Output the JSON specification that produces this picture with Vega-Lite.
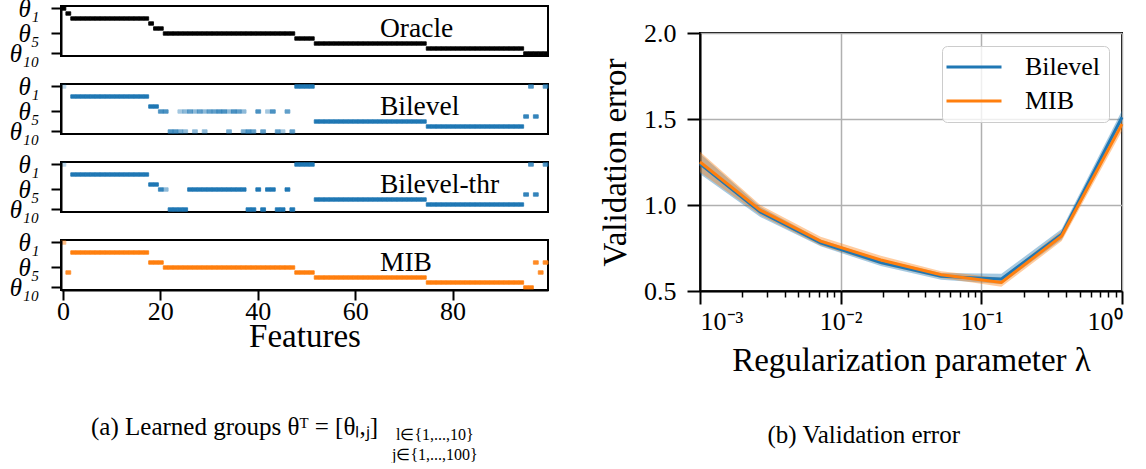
{
  "$schema": "https://vega.github.io/schema/vega-lite/v6.json",
  "background": "white",
  "padding": {"left": 8, "top": -5, "right": 5, "bottom": 0},
  "config": {
    "font": "Liberation Serif",
    "view": {"stroke": "black", "strokeWidth": 2},
    "axis": {"domainColor": "black", "domainWidth": 2, "tickColor": "black", "tickWidth": 2, "labelColor": "black", "titleColor": "black", "titleFontWeight": "normal", "labelFont": "Liberation Serif", "titleFont": "Liberation Serif"},
    "title": {"font": "Liberation Serif", "fontWeight": "normal", "color": "black"}
  },
  "datasets": {
    "heat": [
      {"p":"O","j":0,"r":0,"v":1},{"p":"O","j":1,"r":1,"v":1},
      {"p":"O","j":2,"r":2,"v":1},{"p":"O","j":3,"r":2,"v":1},{"p":"O","j":4,"r":2,"v":1},{"p":"O","j":5,"r":2,"v":1},{"p":"O","j":6,"r":2,"v":1},{"p":"O","j":7,"r":2,"v":1},{"p":"O","j":8,"r":2,"v":1},{"p":"O","j":9,"r":2,"v":1},{"p":"O","j":10,"r":2,"v":1},{"p":"O","j":11,"r":2,"v":1},{"p":"O","j":12,"r":2,"v":1},{"p":"O","j":13,"r":2,"v":1},{"p":"O","j":14,"r":2,"v":1},{"p":"O","j":15,"r":2,"v":1},{"p":"O","j":16,"r":2,"v":1},{"p":"O","j":17,"r":2,"v":1},
      {"p":"O","j":18,"r":3,"v":1},{"p":"O","j":19,"r":4,"v":1},{"p":"O","j":20,"r":4,"v":1},
      {"p":"O","j":21,"r":5,"v":1},{"p":"O","j":22,"r":5,"v":1},{"p":"O","j":23,"r":5,"v":1},{"p":"O","j":24,"r":5,"v":1},{"p":"O","j":25,"r":5,"v":1},{"p":"O","j":26,"r":5,"v":1},{"p":"O","j":27,"r":5,"v":1},{"p":"O","j":28,"r":5,"v":1},{"p":"O","j":29,"r":5,"v":1},{"p":"O","j":30,"r":5,"v":1},{"p":"O","j":31,"r":5,"v":1},{"p":"O","j":32,"r":5,"v":1},{"p":"O","j":33,"r":5,"v":1},{"p":"O","j":34,"r":5,"v":1},{"p":"O","j":35,"r":5,"v":1},{"p":"O","j":36,"r":5,"v":1},{"p":"O","j":37,"r":5,"v":1},{"p":"O","j":38,"r":5,"v":1},{"p":"O","j":39,"r":5,"v":1},{"p":"O","j":40,"r":5,"v":1},{"p":"O","j":41,"r":5,"v":1},{"p":"O","j":42,"r":5,"v":1},{"p":"O","j":43,"r":5,"v":1},{"p":"O","j":44,"r":5,"v":1},{"p":"O","j":45,"r":5,"v":1},{"p":"O","j":46,"r":5,"v":1},{"p":"O","j":47,"r":5,"v":1},
      {"p":"O","j":48,"r":6,"v":1},{"p":"O","j":49,"r":6,"v":1},{"p":"O","j":50,"r":6,"v":1},{"p":"O","j":51,"r":6,"v":1},
      {"p":"O","j":52,"r":7,"v":1},{"p":"O","j":53,"r":7,"v":1},{"p":"O","j":54,"r":7,"v":1},{"p":"O","j":55,"r":7,"v":1},{"p":"O","j":56,"r":7,"v":1},{"p":"O","j":57,"r":7,"v":1},{"p":"O","j":58,"r":7,"v":1},{"p":"O","j":59,"r":7,"v":1},{"p":"O","j":60,"r":7,"v":1},{"p":"O","j":61,"r":7,"v":1},{"p":"O","j":62,"r":7,"v":1},{"p":"O","j":63,"r":7,"v":1},{"p":"O","j":64,"r":7,"v":1},{"p":"O","j":65,"r":7,"v":1},{"p":"O","j":66,"r":7,"v":1},{"p":"O","j":67,"r":7,"v":1},{"p":"O","j":68,"r":7,"v":1},{"p":"O","j":69,"r":7,"v":1},{"p":"O","j":70,"r":7,"v":1},{"p":"O","j":71,"r":7,"v":1},{"p":"O","j":72,"r":7,"v":1},{"p":"O","j":73,"r":7,"v":1},{"p":"O","j":74,"r":7,"v":1},
      {"p":"O","j":75,"r":8,"v":1},{"p":"O","j":76,"r":8,"v":1},{"p":"O","j":77,"r":8,"v":1},{"p":"O","j":78,"r":8,"v":1},{"p":"O","j":79,"r":8,"v":1},{"p":"O","j":80,"r":8,"v":1},{"p":"O","j":81,"r":8,"v":1},{"p":"O","j":82,"r":8,"v":1},{"p":"O","j":83,"r":8,"v":1},{"p":"O","j":84,"r":8,"v":1},{"p":"O","j":85,"r":8,"v":1},{"p":"O","j":86,"r":8,"v":1},{"p":"O","j":87,"r":8,"v":1},{"p":"O","j":88,"r":8,"v":1},{"p":"O","j":89,"r":8,"v":1},{"p":"O","j":90,"r":8,"v":1},{"p":"O","j":91,"r":8,"v":1},{"p":"O","j":92,"r":8,"v":1},{"p":"O","j":93,"r":8,"v":1},{"p":"O","j":94,"r":8,"v":1},
      {"p":"O","j":95,"r":9,"v":1},{"p":"O","j":96,"r":9,"v":1},{"p":"O","j":97,"r":9,"v":1},{"p":"O","j":98,"r":9,"v":1},{"p":"O","j":99,"r":9,"v":1},

      {"p":"B","j":0,"r":0,"v":0.3},
      {"p":"B","j":2,"r":2,"v":1},{"p":"B","j":3,"r":2,"v":1},{"p":"B","j":4,"r":2,"v":1},{"p":"B","j":5,"r":2,"v":1},{"p":"B","j":6,"r":2,"v":1},{"p":"B","j":7,"r":2,"v":1},{"p":"B","j":8,"r":2,"v":1},{"p":"B","j":9,"r":2,"v":1},{"p":"B","j":10,"r":2,"v":1},{"p":"B","j":11,"r":2,"v":1},{"p":"B","j":12,"r":2,"v":1},{"p":"B","j":13,"r":2,"v":1},{"p":"B","j":14,"r":2,"v":1},{"p":"B","j":15,"r":2,"v":1},{"p":"B","j":16,"r":2,"v":1},{"p":"B","j":17,"r":2,"v":1},
      {"p":"B","j":18,"r":4,"v":1},{"p":"B","j":19,"r":4,"v":1},{"p":"B","j":20,"r":5,"v":0.8},{"p":"B","j":21,"r":5,"v":0.8},
      {"p":"B","j":22,"r":9,"v":0.8},{"p":"B","j":23,"r":9,"v":0.8},{"p":"B","j":24,"r":9,"v":0.6},{"p":"B","j":24,"r":5,"v":0.4},{"p":"B","j":25,"r":9,"v":0.5},{"p":"B","j":25,"r":5,"v":0.5},
      {"p":"B","j":26,"r":5,"v":0.7},{"p":"B","j":27,"r":5,"v":0.5},{"p":"B","j":27,"r":9,"v":0.5},{"p":"B","j":28,"r":5,"v":0.7},{"p":"B","j":29,"r":5,"v":0.5},{"p":"B","j":29,"r":9,"v":0.5},{"p":"B","j":30,"r":5,"v":0.7},{"p":"B","j":31,"r":5,"v":0.7},{"p":"B","j":32,"r":5,"v":0.8},{"p":"B","j":33,"r":5,"v":0.8},{"p":"B","j":34,"r":5,"v":0.5},{"p":"B","j":34,"r":9,"v":0.6},{"p":"B","j":35,"r":5,"v":0.8},{"p":"B","j":36,"r":5,"v":0.7},{"p":"B","j":37,"r":5,"v":0.5},{"p":"B","j":37,"r":9,"v":0.6},{"p":"B","j":38,"r":9,"v":0.8},{"p":"B","j":39,"r":9,"v":0.7},{"p":"B","j":40,"r":5,"v":0.8},{"p":"B","j":41,"r":9,"v":0.7},{"p":"B","j":42,"r":5,"v":0.4},{"p":"B","j":43,"r":5,"v":0.8},{"p":"B","j":44,"r":9,"v":0.7},{"p":"B","j":45,"r":9,"v":0.4},{"p":"B","j":46,"r":5,"v":0.7},{"p":"B","j":47,"r":9,"v":0.7},
      {"p":"B","j":48,"r":0,"v":1},{"p":"B","j":49,"r":0,"v":1},{"p":"B","j":50,"r":0,"v":1},{"p":"B","j":51,"r":0,"v":1},
      {"p":"B","j":52,"r":7,"v":1},{"p":"B","j":53,"r":7,"v":1},{"p":"B","j":54,"r":7,"v":1},{"p":"B","j":55,"r":7,"v":1},{"p":"B","j":56,"r":7,"v":1},{"p":"B","j":57,"r":7,"v":1},{"p":"B","j":58,"r":7,"v":1},{"p":"B","j":59,"r":7,"v":1},{"p":"B","j":60,"r":7,"v":1},{"p":"B","j":61,"r":7,"v":1},{"p":"B","j":62,"r":7,"v":1},{"p":"B","j":63,"r":7,"v":1},{"p":"B","j":64,"r":7,"v":1},{"p":"B","j":65,"r":7,"v":1},{"p":"B","j":66,"r":7,"v":1},{"p":"B","j":67,"r":7,"v":1},{"p":"B","j":68,"r":7,"v":1},{"p":"B","j":69,"r":7,"v":1},{"p":"B","j":70,"r":7,"v":1},{"p":"B","j":71,"r":7,"v":1},{"p":"B","j":72,"r":7,"v":1},{"p":"B","j":73,"r":7,"v":1},{"p":"B","j":74,"r":7,"v":1},
      {"p":"B","j":75,"r":8,"v":1},{"p":"B","j":76,"r":8,"v":1},{"p":"B","j":77,"r":8,"v":1},{"p":"B","j":78,"r":8,"v":1},{"p":"B","j":79,"r":8,"v":1},{"p":"B","j":80,"r":8,"v":1},{"p":"B","j":81,"r":8,"v":1},{"p":"B","j":82,"r":8,"v":1},{"p":"B","j":83,"r":8,"v":1},{"p":"B","j":84,"r":8,"v":1},{"p":"B","j":85,"r":8,"v":1},{"p":"B","j":86,"r":8,"v":1},{"p":"B","j":87,"r":8,"v":1},{"p":"B","j":88,"r":8,"v":1},{"p":"B","j":89,"r":8,"v":1},{"p":"B","j":90,"r":8,"v":1},{"p":"B","j":91,"r":8,"v":1},{"p":"B","j":92,"r":8,"v":1},{"p":"B","j":93,"r":8,"v":1},{"p":"B","j":94,"r":8,"v":1},
      {"p":"B","j":95,"r":6,"v":0.9},{"p":"B","j":97,"r":6,"v":0.9},{"p":"B","j":96,"r":0,"v":0.8},{"p":"B","j":99,"r":0,"v":0.8},

      {"p":"T","j":0,"r":0,"v":0.3},
      {"p":"T","j":2,"r":2,"v":1},{"p":"T","j":3,"r":2,"v":1},{"p":"T","j":4,"r":2,"v":1},{"p":"T","j":5,"r":2,"v":1},{"p":"T","j":6,"r":2,"v":1},{"p":"T","j":7,"r":2,"v":1},{"p":"T","j":8,"r":2,"v":1},{"p":"T","j":9,"r":2,"v":1},{"p":"T","j":10,"r":2,"v":1},{"p":"T","j":11,"r":2,"v":1},{"p":"T","j":12,"r":2,"v":1},{"p":"T","j":13,"r":2,"v":1},{"p":"T","j":14,"r":2,"v":1},{"p":"T","j":15,"r":2,"v":1},{"p":"T","j":16,"r":2,"v":1},{"p":"T","j":17,"r":2,"v":1},
      {"p":"T","j":18,"r":4,"v":1},{"p":"T","j":19,"r":4,"v":1},{"p":"T","j":20,"r":5,"v":0.9},{"p":"T","j":21,"r":5,"v":0.5},
      {"p":"T","j":22,"r":9,"v":1},{"p":"T","j":23,"r":9,"v":1},{"p":"T","j":24,"r":9,"v":1},{"p":"T","j":25,"r":9,"v":1},
      {"p":"T","j":26,"r":5,"v":1},{"p":"T","j":27,"r":5,"v":1},{"p":"T","j":28,"r":5,"v":1},{"p":"T","j":29,"r":5,"v":1},{"p":"T","j":30,"r":5,"v":1},{"p":"T","j":31,"r":5,"v":1},{"p":"T","j":32,"r":5,"v":1},{"p":"T","j":33,"r":5,"v":1},{"p":"T","j":34,"r":5,"v":1},{"p":"T","j":35,"r":5,"v":1},{"p":"T","j":36,"r":5,"v":1},{"p":"T","j":37,"r":5,"v":1},
      {"p":"T","j":38,"r":9,"v":1},{"p":"T","j":39,"r":9,"v":1},{"p":"T","j":40,"r":5,"v":1},{"p":"T","j":41,"r":9,"v":1},{"p":"T","j":42,"r":5,"v":1},{"p":"T","j":43,"r":5,"v":1},{"p":"T","j":44,"r":9,"v":1},{"p":"T","j":45,"r":9,"v":1},{"p":"T","j":46,"r":5,"v":1},{"p":"T","j":47,"r":9,"v":1},
      {"p":"T","j":48,"r":0,"v":1},{"p":"T","j":49,"r":0,"v":1},{"p":"T","j":50,"r":0,"v":1},{"p":"T","j":51,"r":0,"v":1},
      {"p":"T","j":52,"r":7,"v":1},{"p":"T","j":53,"r":7,"v":1},{"p":"T","j":54,"r":7,"v":1},{"p":"T","j":55,"r":7,"v":1},{"p":"T","j":56,"r":7,"v":1},{"p":"T","j":57,"r":7,"v":1},{"p":"T","j":58,"r":7,"v":1},{"p":"T","j":59,"r":7,"v":1},{"p":"T","j":60,"r":7,"v":1},{"p":"T","j":61,"r":7,"v":1},{"p":"T","j":62,"r":7,"v":1},{"p":"T","j":63,"r":7,"v":1},{"p":"T","j":64,"r":7,"v":1},{"p":"T","j":65,"r":7,"v":1},{"p":"T","j":66,"r":7,"v":1},{"p":"T","j":67,"r":7,"v":1},{"p":"T","j":68,"r":7,"v":1},{"p":"T","j":69,"r":7,"v":1},{"p":"T","j":70,"r":7,"v":1},{"p":"T","j":71,"r":7,"v":1},{"p":"T","j":72,"r":7,"v":1},{"p":"T","j":73,"r":7,"v":1},{"p":"T","j":74,"r":7,"v":1},
      {"p":"T","j":75,"r":8,"v":1},{"p":"T","j":76,"r":8,"v":1},{"p":"T","j":77,"r":8,"v":1},{"p":"T","j":78,"r":8,"v":1},{"p":"T","j":79,"r":8,"v":1},{"p":"T","j":80,"r":8,"v":1},{"p":"T","j":81,"r":8,"v":1},{"p":"T","j":82,"r":8,"v":1},{"p":"T","j":83,"r":8,"v":1},{"p":"T","j":84,"r":8,"v":1},{"p":"T","j":85,"r":8,"v":1},{"p":"T","j":86,"r":8,"v":1},{"p":"T","j":87,"r":8,"v":1},{"p":"T","j":88,"r":8,"v":1},{"p":"T","j":89,"r":8,"v":1},{"p":"T","j":90,"r":8,"v":1},{"p":"T","j":91,"r":8,"v":1},{"p":"T","j":92,"r":8,"v":1},{"p":"T","j":93,"r":8,"v":1},{"p":"T","j":94,"r":8,"v":1},
      {"p":"T","j":95,"r":6,"v":0.9},{"p":"T","j":97,"r":6,"v":0.9},{"p":"T","j":96,"r":0,"v":0.8},{"p":"T","j":99,"r":0,"v":0.8},

      {"p":"M","j":0,"r":0,"v":0.5},{"p":"M","j":1,"r":6,"v":0.9},
      {"p":"M","j":2,"r":2,"v":1},{"p":"M","j":3,"r":2,"v":1},{"p":"M","j":4,"r":2,"v":1},{"p":"M","j":5,"r":2,"v":1},{"p":"M","j":6,"r":2,"v":1},{"p":"M","j":7,"r":2,"v":1},{"p":"M","j":8,"r":2,"v":1},{"p":"M","j":9,"r":2,"v":1},{"p":"M","j":10,"r":2,"v":1},{"p":"M","j":11,"r":2,"v":1},{"p":"M","j":12,"r":2,"v":1},{"p":"M","j":13,"r":2,"v":1},{"p":"M","j":14,"r":2,"v":1},{"p":"M","j":15,"r":2,"v":1},{"p":"M","j":16,"r":2,"v":1},{"p":"M","j":17,"r":2,"v":1},
      {"p":"M","j":18,"r":4,"v":1},{"p":"M","j":19,"r":4,"v":1},{"p":"M","j":20,"r":4,"v":1},
      {"p":"M","j":21,"r":5,"v":1},{"p":"M","j":22,"r":5,"v":1},{"p":"M","j":23,"r":5,"v":1},{"p":"M","j":24,"r":5,"v":1},{"p":"M","j":25,"r":5,"v":1},{"p":"M","j":26,"r":5,"v":1},{"p":"M","j":27,"r":5,"v":1},{"p":"M","j":28,"r":5,"v":1},{"p":"M","j":29,"r":5,"v":1},{"p":"M","j":30,"r":5,"v":1},{"p":"M","j":31,"r":5,"v":1},{"p":"M","j":32,"r":5,"v":1},{"p":"M","j":33,"r":5,"v":1},{"p":"M","j":34,"r":5,"v":1},{"p":"M","j":35,"r":5,"v":1},{"p":"M","j":36,"r":5,"v":1},{"p":"M","j":37,"r":5,"v":1},{"p":"M","j":38,"r":5,"v":1},{"p":"M","j":39,"r":5,"v":1},{"p":"M","j":40,"r":5,"v":1},{"p":"M","j":41,"r":5,"v":1},{"p":"M","j":42,"r":5,"v":1},{"p":"M","j":43,"r":5,"v":1},{"p":"M","j":44,"r":5,"v":1},{"p":"M","j":45,"r":5,"v":1},{"p":"M","j":46,"r":5,"v":1},{"p":"M","j":47,"r":5,"v":1},
      {"p":"M","j":48,"r":6,"v":1},{"p":"M","j":49,"r":6,"v":1},{"p":"M","j":50,"r":6,"v":1},{"p":"M","j":51,"r":6,"v":1},
      {"p":"M","j":52,"r":7,"v":1},{"p":"M","j":53,"r":7,"v":1},{"p":"M","j":54,"r":7,"v":1},{"p":"M","j":55,"r":7,"v":1},{"p":"M","j":56,"r":7,"v":1},{"p":"M","j":57,"r":7,"v":1},{"p":"M","j":58,"r":7,"v":1},{"p":"M","j":59,"r":7,"v":1},{"p":"M","j":60,"r":7,"v":1},{"p":"M","j":61,"r":7,"v":1},{"p":"M","j":62,"r":7,"v":1},{"p":"M","j":63,"r":7,"v":1},{"p":"M","j":64,"r":7,"v":1},{"p":"M","j":65,"r":7,"v":1},{"p":"M","j":66,"r":7,"v":1},{"p":"M","j":67,"r":7,"v":1},{"p":"M","j":68,"r":7,"v":1},{"p":"M","j":69,"r":7,"v":1},{"p":"M","j":70,"r":7,"v":1},{"p":"M","j":71,"r":7,"v":1},{"p":"M","j":72,"r":7,"v":1},{"p":"M","j":73,"r":7,"v":1},{"p":"M","j":74,"r":7,"v":1},
      {"p":"M","j":75,"r":8,"v":1},{"p":"M","j":76,"r":8,"v":1},{"p":"M","j":77,"r":8,"v":1},{"p":"M","j":78,"r":8,"v":1},{"p":"M","j":79,"r":8,"v":1},{"p":"M","j":80,"r":8,"v":1},{"p":"M","j":81,"r":8,"v":1},{"p":"M","j":82,"r":8,"v":1},{"p":"M","j":83,"r":8,"v":1},{"p":"M","j":84,"r":8,"v":1},{"p":"M","j":85,"r":8,"v":1},{"p":"M","j":86,"r":8,"v":1},{"p":"M","j":87,"r":8,"v":1},{"p":"M","j":88,"r":8,"v":1},{"p":"M","j":89,"r":8,"v":1},{"p":"M","j":90,"r":8,"v":1},{"p":"M","j":91,"r":8,"v":1},{"p":"M","j":92,"r":8,"v":1},{"p":"M","j":93,"r":8,"v":1},{"p":"M","j":94,"r":8,"v":1},
      {"p":"M","j":95,"r":9,"v":1},{"p":"M","j":96,"r":9,"v":1},{"p":"M","j":97,"r":4,"v":0.9},{"p":"M","j":98,"r":6,"v":0.9},{"p":"M","j":99,"r":4,"v":0.9}
    ],
    "val": [
      {"s":"Bilevel","x":0.001,"m":1.24,"lo":1.18,"hi":1.30},
      {"s":"Bilevel","x":0.002683,"m":0.96,"lo":0.93,"hi":0.99},
      {"s":"Bilevel","x":0.007197,"m":0.78,"lo":0.76,"hi":0.80},
      {"s":"Bilevel","x":0.019307,"m":0.665,"lo":0.645,"hi":0.685},
      {"s":"Bilevel","x":0.051795,"m":0.585,"lo":0.565,"hi":0.605},
      {"s":"Bilevel","x":0.13895,"m":0.57,"lo":0.54,"hi":0.60},
      {"s":"Bilevel","x":0.372759,"m":0.83,"lo":0.80,"hi":0.86},
      {"s":"Bilevel","x":1.0,"m":1.51,"lo":1.47,"hi":1.55},
      {"s":"MIB","x":0.001,"m":1.25,"lo":1.19,"hi":1.31},
      {"s":"MIB","x":0.002683,"m":0.97,"lo":0.94,"hi":1.0},
      {"s":"MIB","x":0.007197,"m":0.79,"lo":0.765,"hi":0.815},
      {"s":"MIB","x":0.019307,"m":0.68,"lo":0.655,"hi":0.705},
      {"s":"MIB","x":0.051795,"m":0.595,"lo":0.575,"hi":0.615},
      {"s":"MIB","x":0.13895,"m":0.55,"lo":0.525,"hi":0.575},
      {"s":"MIB","x":0.372759,"m":0.82,"lo":0.79,"hi":0.85},
      {"s":"MIB","x":1.0,"m":1.47,"lo":1.43,"hi":1.51}
    ]
  },
  "hconcat": [
    {
      "spacing": 6,
      "title": {"text": ["l∈{1,...,10}", "j∈{1,...,100}"], "orient": "bottom", "anchor": "middle", "fontSize": 16, "lineHeight": 20, "offset": -14, "dx": 156},
      "vconcat": [
        {
          "width": 487, "height": 50,
          "layer": [
            {"data": {"name": "heat"}, "transform": [{"filter": "datum.p == 'O'"}],
             "mark": {"type": "rect", "color": "black", "stroke": "black", "strokeWidth": 0.8, "height": {"band": 0.7}},
             "encoding": {
               "x": {"field": "j", "type": "ordinal", "scale": {"type": "band", "domain": [0,1,2,3,4,5,6,7,8,9,10,11,12,13,14,15,16,17,18,19,20,21,22,23,24,25,26,27,28,29,30,31,32,33,34,35,36,37,38,39,40,41,42,43,44,45,46,47,48,49,50,51,52,53,54,55,56,57,58,59,60,61,62,63,64,65,66,67,68,69,70,71,72,73,74,75,76,77,78,79,80,81,82,83,84,85,86,87,88,89,90,91,92,93,94,95,96,97,98,99], "paddingInner": 0, "paddingOuter": 0}, "axis": null},
               "y": {"field": "r", "type": "ordinal", "scale": {"type": "band", "domain": [0,1,2,3,4,5,6,7,8,9], "paddingInner": 0, "paddingOuter": 0}, "axis": {"values": [0,5,9], "labelExpr": "datum.value == 0 ? 'θ₁' : datum.value == 5 ? 'θ₅' : 'θ₁₀'", "tickSize": 10, "labelFontSize": 25, "labelFontStyle": "italic", "labelPadding": 12, "title": null}},
               "opacity": {"field": "v", "type": "quantitative", "scale": {"domain": [0,1], "range": [0,1]}, "legend": null}
             }},
            {"data": {"values": [{"t": "Oracle"}]},
             "mark": {"type": "text", "align": "left", "baseline": "middle", "fontSize": 27.5},
             "encoding": {"x": {"datum": 65, "type": "ordinal"}, "y": {"datum": 4, "type": "ordinal"}, "text": {"field": "t"}}}
          ]
        },
        {
          "width": 487, "height": 50,
          "layer": [
            {"data": {"name": "heat"}, "transform": [{"filter": "datum.p == 'B'"}],
             "mark": {"type": "rect", "color": "#1f77b4", "stroke": "#1f77b4", "strokeWidth": 0.8, "height": {"band": 0.7}},
             "encoding": {
               "x": {"field": "j", "type": "ordinal", "scale": {"type": "band", "domain": [0,1,2,3,4,5,6,7,8,9,10,11,12,13,14,15,16,17,18,19,20,21,22,23,24,25,26,27,28,29,30,31,32,33,34,35,36,37,38,39,40,41,42,43,44,45,46,47,48,49,50,51,52,53,54,55,56,57,58,59,60,61,62,63,64,65,66,67,68,69,70,71,72,73,74,75,76,77,78,79,80,81,82,83,84,85,86,87,88,89,90,91,92,93,94,95,96,97,98,99], "paddingInner": 0, "paddingOuter": 0}, "axis": null},
               "y": {"field": "r", "type": "ordinal", "scale": {"type": "band", "domain": [0,1,2,3,4,5,6,7,8,9], "paddingInner": 0, "paddingOuter": 0}, "axis": {"values": [0,5,9], "labelExpr": "datum.value == 0 ? 'θ₁' : datum.value == 5 ? 'θ₅' : 'θ₁₀'", "tickSize": 10, "labelFontSize": 25, "labelFontStyle": "italic", "labelPadding": 12, "title": null}},
               "opacity": {"field": "v", "type": "quantitative", "scale": {"domain": [0,1], "range": [0,1]}, "legend": null}
             }},
            {"data": {"values": [{"t": "Bilevel"}]},
             "mark": {"type": "text", "align": "left", "baseline": "middle", "fontSize": 27.5},
             "encoding": {"x": {"datum": 65, "type": "ordinal"}, "y": {"datum": 4, "type": "ordinal"}, "text": {"field": "t"}}}
          ]
        },
        {
          "width": 487, "height": 50,
          "layer": [
            {"data": {"name": "heat"}, "transform": [{"filter": "datum.p == 'T'"}],
             "mark": {"type": "rect", "color": "#1f77b4", "stroke": "#1f77b4", "strokeWidth": 0.8, "height": {"band": 0.7}},
             "encoding": {
               "x": {"field": "j", "type": "ordinal", "scale": {"type": "band", "domain": [0,1,2,3,4,5,6,7,8,9,10,11,12,13,14,15,16,17,18,19,20,21,22,23,24,25,26,27,28,29,30,31,32,33,34,35,36,37,38,39,40,41,42,43,44,45,46,47,48,49,50,51,52,53,54,55,56,57,58,59,60,61,62,63,64,65,66,67,68,69,70,71,72,73,74,75,76,77,78,79,80,81,82,83,84,85,86,87,88,89,90,91,92,93,94,95,96,97,98,99], "paddingInner": 0, "paddingOuter": 0}, "axis": null},
               "y": {"field": "r", "type": "ordinal", "scale": {"type": "band", "domain": [0,1,2,3,4,5,6,7,8,9], "paddingInner": 0, "paddingOuter": 0}, "axis": {"values": [0,5,9], "labelExpr": "datum.value == 0 ? 'θ₁' : datum.value == 5 ? 'θ₅' : 'θ₁₀'", "tickSize": 10, "labelFontSize": 25, "labelFontStyle": "italic", "labelPadding": 12, "title": null}},
               "opacity": {"field": "v", "type": "quantitative", "scale": {"domain": [0,1], "range": [0,1]}, "legend": null}
             }},
            {"data": {"values": [{"t": "Bilevel-thr"}]},
             "mark": {"type": "text", "align": "left", "baseline": "middle", "fontSize": 27.5},
             "encoding": {"x": {"datum": 65, "type": "ordinal"}, "y": {"datum": 4, "type": "ordinal"}, "text": {"field": "t"}}}
          ]
        },
        {
          "width": 487, "height": 50,
          "title": {"text": "(a) Learned groups θᵀ = [θₗ,ⱼ]", "orient": "bottom", "anchor": "middle", "fontSize": 25, "offset": 62, "dx": -70},
          "layer": [
            {"data": {"name": "heat"}, "transform": [{"filter": "datum.p == 'M'"}],
             "mark": {"type": "rect", "color": "#ff7f0e", "stroke": "#ff7f0e", "strokeWidth": 0.8, "height": {"band": 0.7}},
             "encoding": {
               "x": {"field": "j", "type": "ordinal", "scale": {"type": "band", "domain": [0,1,2,3,4,5,6,7,8,9,10,11,12,13,14,15,16,17,18,19,20,21,22,23,24,25,26,27,28,29,30,31,32,33,34,35,36,37,38,39,40,41,42,43,44,45,46,47,48,49,50,51,52,53,54,55,56,57,58,59,60,61,62,63,64,65,66,67,68,69,70,71,72,73,74,75,76,77,78,79,80,81,82,83,84,85,86,87,88,89,90,91,92,93,94,95,96,97,98,99], "paddingInner": 0, "paddingOuter": 0}, "axis": {"values": [0,20,40,60,80], "labelAngle": 0, "tickSize": 10, "labelFontSize": 26, "labelPadding": -2, "title": "Features", "titleFontSize": 33, "titlePadding": -4}},
               "y": {"field": "r", "type": "ordinal", "scale": {"type": "band", "domain": [0,1,2,3,4,5,6,7,8,9], "paddingInner": 0, "paddingOuter": 0}, "axis": {"values": [0,5,9], "labelExpr": "datum.value == 0 ? 'θ₁' : datum.value == 5 ? 'θ₅' : 'θ₁₀'", "tickSize": 10, "labelFontSize": 25, "labelFontStyle": "italic", "labelPadding": 12, "title": null}},
               "opacity": {"field": "v", "type": "quantitative", "scale": {"domain": [0,1], "range": [0,1]}, "legend": null}
             }},
            {"data": {"values": [{"t": "MIB"}]},
             "mark": {"type": "text", "align": "left", "baseline": "middle", "fontSize": 27.5},
             "encoding": {"x": {"datum": 65, "type": "ordinal"}, "y": {"datum": 4, "type": "ordinal"}, "text": {"field": "t"}}}
          ]
        }
      ]
    },
    {
      "title": {"text": "(b) Validation error", "orient": "bottom", "anchor": "middle", "fontSize": 25, "offset": 45},
      "spacing": 8,
      "vconcat": [
        {
          "width": 422, "height": 5,
          "view": {"stroke": null},
          "data": {"values": []},
          "mark": "rect",
          "encoding": {}
        },
        {
          "width": 422, "height": 258,
          "data": {"name": "val"},
          "layer": [
            {"mark": {"type": "area", "opacity": 0.4},
             "encoding": {
               "x": {"field": "x", "type": "quantitative", "scale": {"type": "log", "domain": [0.001, 1], "nice": false}, "axis": {"orient": "bottom", "values": [0.002,0.003,0.004,0.005,0.006,0.007,0.008,0.009,0.02,0.03,0.04,0.05,0.06,0.07,0.08,0.09,0.2,0.3,0.4,0.5,0.6,0.7,0.8,0.9], "labels": false, "tickSize": 6, "tickWidth": 1.5, "grid": false, "domain": false, "title": null}},
               "y": {"field": "lo", "type": "quantitative", "scale": {"domain": [0.5, 2.0], "nice": false}, "axis": {"values": [0.5, 1.0, 1.5, 2.0], "format": ".1f", "tickSize": 13, "labelFontSize": 26, "labelPadding": 11, "grid": true, "gridColor": "#b0b0b0", "gridWidth": 1.5, "title": "Validation error", "titleFontSize": 33, "titlePadding": 11}},
               "y2": {"field": "hi"},
               "color": {"field": "s", "type": "nominal", "scale": {"domain": ["Bilevel", "MIB"], "range": ["#1f77b4", "#ff7f0e"]},
                 "legend": {"orient": "top-right", "offset": 13, "title": null, "symbolType": "M-2.5,0H2.5", "symbolSize": 484, "symbolStrokeWidth": 3, "symbolOpacity": 1, "symbolOffset": 11, "labelFontSize": 26, "labelOffset": 38, "padding": 8, "rowPadding": 8, "strokeColor": "#cccccc", "fillColor": "rgba(255,255,255,0.8)", "cornerRadius": 5}}
             }},
            {"mark": {"type": "line", "strokeWidth": 3},
             "encoding": {
               "x": {"field": "x", "type": "quantitative", "axis": {"orient": "bottom", "values": [0.001, 0.01, 0.1, 1], "labelExpr": "datum.value < 0.005 ? '10⁻³' : datum.value < 0.05 ? '10⁻²' : datum.value < 0.5 ? '10⁻¹' : '10⁰'", "tickSize": 13, "labelFontSize": 26, "labelPadding": 4, "grid": true, "gridColor": "#b0b0b0", "gridWidth": 1.5, "title": "Regularization parameter λ", "titleFontSize": 33, "titlePadding": 10}},
               "y": {"field": "m", "type": "quantitative"},
               "color": {"field": "s", "type": "nominal"}
             }}
          ],
          "resolve": {"axis": {"x": "independent"}}
        }
      ],
      "resolve": {"scale": {"color": "independent"}, "legend": {"color": "independent"}}
    }
  ],
  "spacing": 48,
  "resolve": {"scale": {"color": "independent"}, "legend": {"color": "independent"}}
}
